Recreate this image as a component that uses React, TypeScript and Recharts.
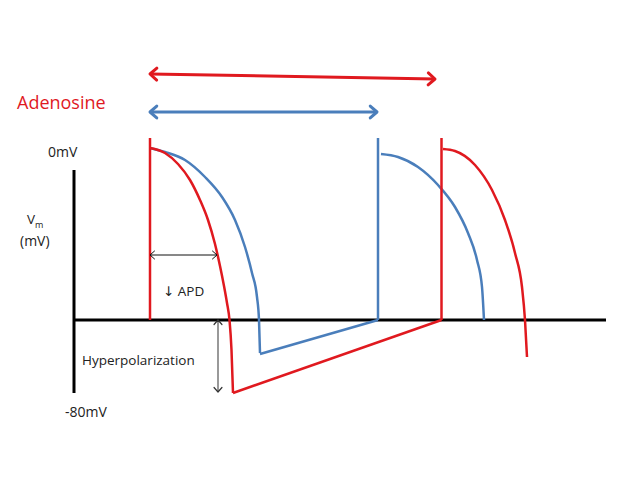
import React from "react";
import { ComposedChart, Line, XAxis, YAxis, ReferenceDot } from "recharts";

type Pt = { t: number; v: number };

const RED = "#E0191F";
const BLUE = "#4A7EBB";
const FONT = "'Open Sans', 'DejaVu Sans', sans-serif";

// time (arbitrary units) vs Vm (arbitrary units, 0 = resting line)
const axisVm: Pt[] = [
  { t: 74, v: 150 },
  { t: 74, v: -73 },
];
const axisRest: Pt[] = [
  { t: 74, v: 0 },
  { t: 606, v: 0 },
];

// control (blue) beats
const blueRepol1: Pt[] = [
  { t: 150, v: 172 },
  { t: 165, v: 168 },
  { t: 185, v: 160 },
  { t: 205, v: 143 },
  { t: 222, v: 123 },
  { t: 235, v: 100 },
  { t: 245, v: 73 },
  { t: 252, v: 47 },
  { t: 257, v: 23 },
  { t: 259, v: 0 },
  { t: 260, v: -33 },
];
const blueDiastole: Pt[] = [
  { t: 260, v: -34 },
  { t: 378, v: 0 },
];
const blueUpstroke2: Pt[] = [
  { t: 378, v: 0 },
  { t: 378, v: 182 },
];
const blueRepol2: Pt[] = [
  { t: 381, v: 166 },
  { t: 398, v: 163 },
  { t: 418, v: 153 },
  { t: 438, v: 135 },
  { t: 455, v: 113 },
  { t: 468, v: 87 },
  { t: 477, v: 60 },
  { t: 482, v: 33 },
  { t: 484, v: 0 },
];

// adenosine (red) beats
const redUpstroke1: Pt[] = [
  { t: 150, v: 0 },
  { t: 150, v: 182 },
];
const redRepol1: Pt[] = [
  { t: 150, v: 172 },
  { t: 165, v: 167 },
  { t: 178, v: 156 },
  { t: 190, v: 140 },
  { t: 200, v: 120 },
  { t: 208, v: 100 },
  { t: 215, v: 76 },
  { t: 220, v: 54 },
  { t: 224, v: 34 },
  { t: 227, v: 17 },
  { t: 229.5, v: 0 },
  { t: 231.5, v: -30 },
  { t: 233, v: -73 },
];
const redDiastole: Pt[] = [
  { t: 233, v: -73 },
  { t: 441.5, v: 0 },
];
const redUpstroke2: Pt[] = [
  { t: 441.5, v: 0 },
  { t: 441.5, v: 182 },
];
const redRepol2: Pt[] = [
  { t: 443, v: 171 },
  { t: 455, v: 169 },
  { t: 475, v: 155 },
  { t: 492, v: 130 },
  { t: 505, v: 100 },
  { t: 515, v: 67 },
  { t: 522, v: 33 },
  { t: 525, v: 0 },
  { t: 527, v: -37 },
];

// interval / amplitude markers
const redCycle: Pt[] = [
  { t: 150, v: 246 },
  { t: 435, v: 241 },
];
const blueCycle: Pt[] = [
  { t: 150, v: 208 },
  { t: 377, v: 208 },
];
const apdSpan: Pt[] = [
  { t: 150, v: 65 },
  { t: 217, v: 65 },
];
const hyperSpan: Pt[] = [
  { t: 218, v: 0 },
  { t: 218, v: -72 },
];

const arrowHead =
  (pts: Pt[], size: number, color: string, width: number) => (props: any) => {
    const { cx, cy, index } = props;
    const me = pts[index];
    const other = pts[index === 0 ? 1 : 0];
    const ang = Math.atan2(-(other.v - me.v), other.t - me.t);
    const a1 = ang + 0.72;
    const a2 = ang - 0.72;
    const d = `M${cx + size * Math.cos(a1)},${cy + size * Math.sin(a1)} L${cx},${cy} L${
      cx + size * Math.cos(a2)
    },${cy + size * Math.sin(a2)}`;
    return (
      <path
        key={`ah-${index}`}
        d={d}
        fill="none"
        stroke={color}
        strokeWidth={width}
        strokeLinecap="round"
        strokeLinejoin="round"
      />
    );
  };

const note =
  (text: React.ReactNode, size: number, color = "#222") => (props: any) =>
    (
      <text
        x={props.cx}
        y={props.cy}
        fontFamily={FONT}
        fontSize={size}
        fill={color}
        textAnchor="start"
      >
        {text}
      </text>
    );

const seg = (
  key: string,
  data: Pt[],
  color: string,
  width: number,
  curved = false
) => (
  <Line
    key={key}
    data={data}
    dataKey="v"
    type={curved ? "monotone" : "linear"}
    stroke={color}
    strokeWidth={width}
    dot={false}
    activeDot={false}
    isAnimationActive={false}
  />
);

export default function App() {
  return (
    <div
      style={{
        position: "absolute",
        left: 0,
        top: 0,
        width: 638,
        height: 479,
        background: "#fff",
      }}
    >
      <ComposedChart
        width={638}
        height={479}
        margin={{ top: 0, right: 0, bottom: 0, left: 0 }}
      >
        <XAxis
          type="number"
          dataKey="t"
          domain={[0, 638]}
          hide
          allowDataOverflow
        />
        <YAxis type="number" domain={[-159, 320]} hide allowDataOverflow />

        {seg("axV", axisVm, "#000", 3)}
        {seg("axH", axisRest, "#000", 3)}

        {seg("b1", blueRepol1, BLUE, 2.5, true)}
        {seg("b2", blueDiastole, BLUE, 2.5)}
        {seg("b3", blueUpstroke2, BLUE, 2.5)}
        {seg("b4", blueRepol2, BLUE, 2.5, true)}

        {seg("r0", redUpstroke1, RED, 2.5)}
        {seg("r1", redRepol1, RED, 2.5, true)}
        {seg("r2", redDiastole, RED, 2.5)}
        {seg("r3", redUpstroke2, RED, 2.5)}
        {seg("r4", redRepol2, RED, 2.5, true)}

        <Line
          data={redCycle}
          dataKey="v"
          stroke={RED}
          strokeWidth={3}
          dot={arrowHead(redCycle, 9, RED, 3)}
          activeDot={false}
          isAnimationActive={false}
        />
        <Line
          data={blueCycle}
          dataKey="v"
          stroke={BLUE}
          strokeWidth={3}
          dot={arrowHead(blueCycle, 9, BLUE, 3)}
          activeDot={false}
          isAnimationActive={false}
        />
        <Line
          data={apdSpan}
          dataKey="v"
          stroke="#111"
          strokeWidth={1}
          dot={arrowHead(apdSpan, 6, "#111", 1)}
          activeDot={false}
          isAnimationActive={false}
        />
        <Line
          data={hyperSpan}
          dataKey="v"
          stroke="#555"
          strokeWidth={1.2}
          dot={arrowHead(hyperSpan, 6, "#333", 1.2)}
          activeDot={false}
          isAnimationActive={false}
        />

        <ReferenceDot x={17} y={211} r={0} shape={note("Adenosine", 18, RED)} />
        <ReferenceDot x={48} y={163} r={0} shape={note("0mV", 14)} />
        <ReferenceDot
          x={27}
          y={96}
          r={0}
          shape={note(
            <>
              <tspan>V</tspan>
              <tspan dy={4} fontSize={9}>
                m
              </tspan>
            </>,
            13.5
          )}
        />
        <ReferenceDot x={20} y={74} r={0} shape={note("(mV)", 14)} />
        <ReferenceDot x={163} y={24} r={0} shape={note("↓ APD", 13.5)} />
        <ReferenceDot
          x={82}
          y={-45}
          r={0}
          shape={note("Hyperpolarization", 13.5)}
        />
        <ReferenceDot x={65} y={-97} r={0} shape={note("-80mV", 14)} />
      </ComposedChart>
    </div>
  );
}
